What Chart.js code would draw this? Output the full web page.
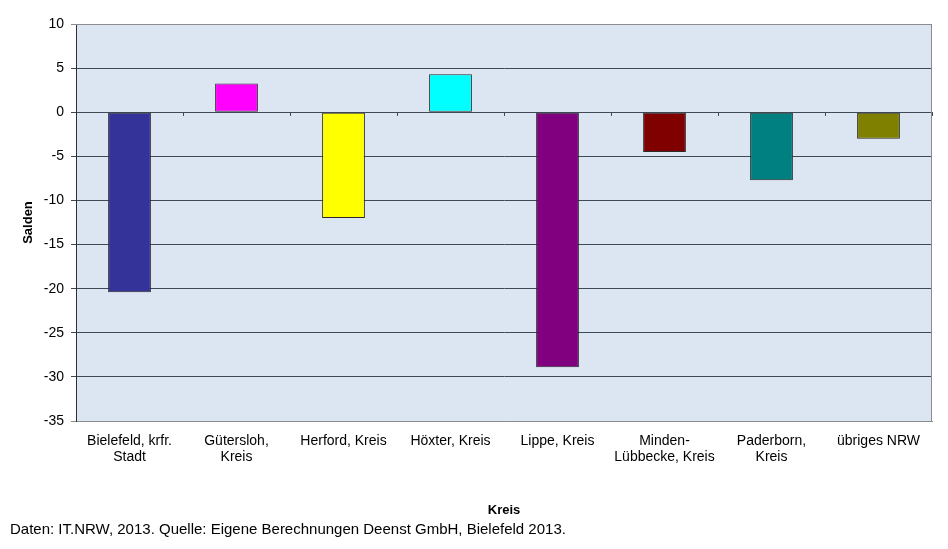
<!DOCTYPE html>
<html>
<head>
<meta charset="utf-8">
<script src="https://cdn.jsdelivr.net/npm/chart.js@4"></script>
<style>
  body { margin: 0; background: #fff; }
  #wrap { width: 948px; height: 549px; }
</style>
</head>
<body>
<div id="wrap"><canvas id="myChart" width="948" height="549"></canvas></div>
<script>
// Kreise (Kategorien)
const kreise = [
    ['Bielefeld, krfr.', 'Stadt'],
    ['Gütersloh,', 'Kreis'],
    'Herford, Kreis',
    'Höxter, Kreis',
    'Lippe, Kreis',
    ['Minden-', 'Lübbecke, Kreis'],
    ['Paderborn,', 'Kreis'],
    'übriges NRW'
];
// Salden
const salden = [-20.4, 3.25, -12.0, 4.3, -28.9, -4.5, -7.7, -3.0];
const farben = ['#333399', '#ff00ff', '#ffff00', '#00ffff', '#800080', '#800000', '#008080', '#808000'];
// Achse
const yMin = -35;
const yMax = 10;
const yStep = 5;

const fontName = '"Liberation Sans", Arial, sans-serif';

// Hintergrund und Rahmen der Zeichenflaeche
const plotBg = {
    id: 'plotBg',
    beforeDraw(chart) {
        const { ctx, chartArea: a } = chart;
        ctx.save();
        ctx.fillStyle = '#dce6f2';
        ctx.fillRect(a.left, a.top, a.right - a.left, a.bottom - a.top);
        ctx.restore();
    },
    afterDatasetsDraw(chart) {
        const { ctx, chartArea: a } = chart;
        ctx.save();
        ctx.strokeStyle = '#8c8c8c';
        ctx.lineWidth = 1;
        ctx.beginPath();
        ctx.moveTo(a.left, a.top + 0.5);
        ctx.lineTo(a.right - 0.5, a.top + 0.5);
        ctx.lineTo(a.right - 0.5, a.bottom);
        ctx.stroke();
        ctx.restore();
    }
};

const ctx = document.getElementById('myChart').getContext('2d');
const myChart = new Chart(ctx, {
    type: 'bar',
    data: {
        labels: kreise,
        datasets: [{
            label: 'Salden',
            data: salden,
            backgroundColor: farben,
            borderColor: '#2a2a2a',
            borderWidth: 1,
            borderSkipped: false,
            barPercentage: 0.4,
            categoryPercentage: 1.0
        }]
    },
    options: {
        responsive: false,
        animation: false,
        layout: { padding: { left: 10, right: 16, top: 24, bottom: 0 } },
        plugins: {
            legend: { display: false },
            tooltip: { enabled: false },
            subtitle: {
                display: true,
                position: 'bottom',
                align: 'start',
                text: 'Daten: IT.NRW, 2013. Quelle: Eigene Berechnungen Deenst GmbH, Bielefeld 2013.',
                color: '#000',
                font: { family: fontName, size: 15 },
                padding: { top: 0, bottom: 10 }
            }
        },
        scales: {
            x: {
                position: 'bottom',
                offset: true,
                grid: { display: false, drawTicks: false },
                border: { display: true, color: '#8c8c8c' },
                ticks: {
                    color: '#000',
                    font: { family: fontName, size: 14, lineHeight: 1.15 },
                    padding: 12,
                    maxRotation: 0,
                    autoSkip: false
                },
                title: {
                    display: true,
                    text: 'Kreis',
                    color: '#000',
                    font: { family: fontName, size: 13, weight: 'bold' },
                    padding: { top: 0, bottom: 3 }
                },
                afterFit(scale) { scale.height = 100; }
            },
            x0: {
                type: 'category',
                labels: kreise,
                position: { y: 0 },
                offset: true,
                grid: { drawOnChartArea: false, drawTicks: true, tickLength: 4, color: '#3f4a57' },
                border: { display: false },
                ticks: { display: false }
            },
            y: {
                min: yMin,
                max: yMax,
                ticks: {
                    stepSize: yStep,
                    color: '#000',
                    font: { family: fontName, size: 14 },
                    padding: 7
                },
                grid: {
                    color: (c) => (c.tick && (c.tick.value === yMax || c.tick.value === yMin)) ? '#8c8c8c' : '#3f4a57',
                    tickLength: 5,
                    drawTicks: true
                },
                border: { display: true, color: '#2f2f2f' },
                title: {
                    display: true,
                    text: 'Salden',
                    color: '#000',
                    font: { family: fontName, size: 13, weight: 'bold' },
                    padding: { top: 11, bottom: 0 }
                },
                afterFit(scale) { scale.width = 66; }
            }
        }
    },
    plugins: [plotBg]
});
</script>
</body>
</html>
